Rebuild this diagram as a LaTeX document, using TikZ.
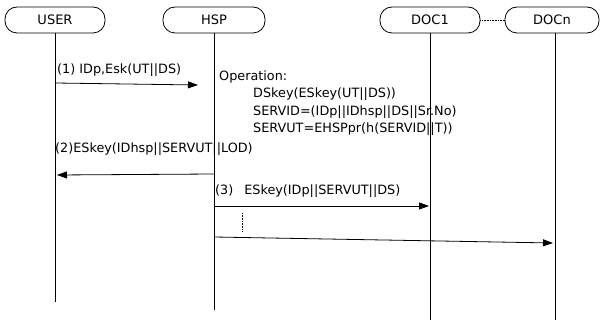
\documentclass[tikz,border=0pt]{standalone}
\usepackage{fontspec}
\setmainfont{DejaVu Sans}
\usetikzlibrary{arrows.meta}
\begin{document}
\begin{tikzpicture}[x=1pt,y=-1pt,
  actor/.style={draw,line width=0.8pt,rounded corners=12pt,minimum height=26pt,inner sep=0pt,font=\fontsize{13}{15}\selectfont},
  life/.style={line width=0.8pt},
  msg/.style={line width=0.8pt,-{Triangle[length=10pt,width=7pt]}},
  lbl/.style={font=\fontsize{12.8}{15}\selectfont,inner sep=0pt,anchor=base west}]
\useasboundingbox (0,0) rectangle (603,323);
% participants
\node[actor,minimum width=100pt] (user) at (55,20) {USER};
\node[actor,minimum width=102pt] (hsp) at (214,20) {HSP};
\node[actor,minimum width=100pt] (doc1) at (430,20) {DOC1};
\node[actor,minimum width=94pt] (docn) at (552,20) {DOCn};
\draw[densely dotted,line width=0.6pt] (doc1.east) -- (docn.west);
% lifelines
\coordinate (uend) at (55,302);
\coordinate (hend) at (214,310);
\coordinate (d1end) at (430,320);
\coordinate (dnend) at (555,320);
\draw[life] (55,33) -- (uend);
\draw[life] (214,33) -- (hend);
\draw[life] (430,33) -- (d1end);
\draw[life] (555,33) -- (dnend);
% message 1
\coordinate (m1s) at (55,83);
\coordinate (m1e) at (198,85);
\draw[msg] (m1s) -- (m1e);
\node[lbl] (l1) at (57,74) {(1) IDp,Esk(UT||DS)};
% operation at HSP
\node[lbl] (op) at (219,81) {Operation:};
\node[lbl] (op1) at (253,98) {DSkey(ESkey(UT||DS))};
\node[lbl] (op2) at (253,116) {SERVID=(IDp||IDhsp||DS||Sr.No)};
\node[lbl] (op3) at (253,133) {SERVUT=EHSPpr(h(SERVID||T))};
% message 2
\coordinate (m2s) at (214,174);
\coordinate (m2e) at (57,175);
\draw[msg] (m2s) -- (m2e);
\node[lbl] (l2) at (55,153) {(2)ESkey(IDhsp||SERVUT||LOD)};
% message 3
\coordinate (m3s) at (214,206);
\coordinate (m3e) at (429,206);
\draw[msg] (m3s) -- (m3e);
\node[lbl] (l3) at (215,195) {(3)\hspace{11pt}ESkey(IDp||SERVUT||DS)};
% continuation
\draw[densely dotted,line width=0.6pt] (242,213) -- (242,231);
\coordinate (m4s) at (214,237);
\coordinate (m4e) at (553,243);
\draw[msg] (m4s) -- (m4e);
\end{tikzpicture}
\end{document}
